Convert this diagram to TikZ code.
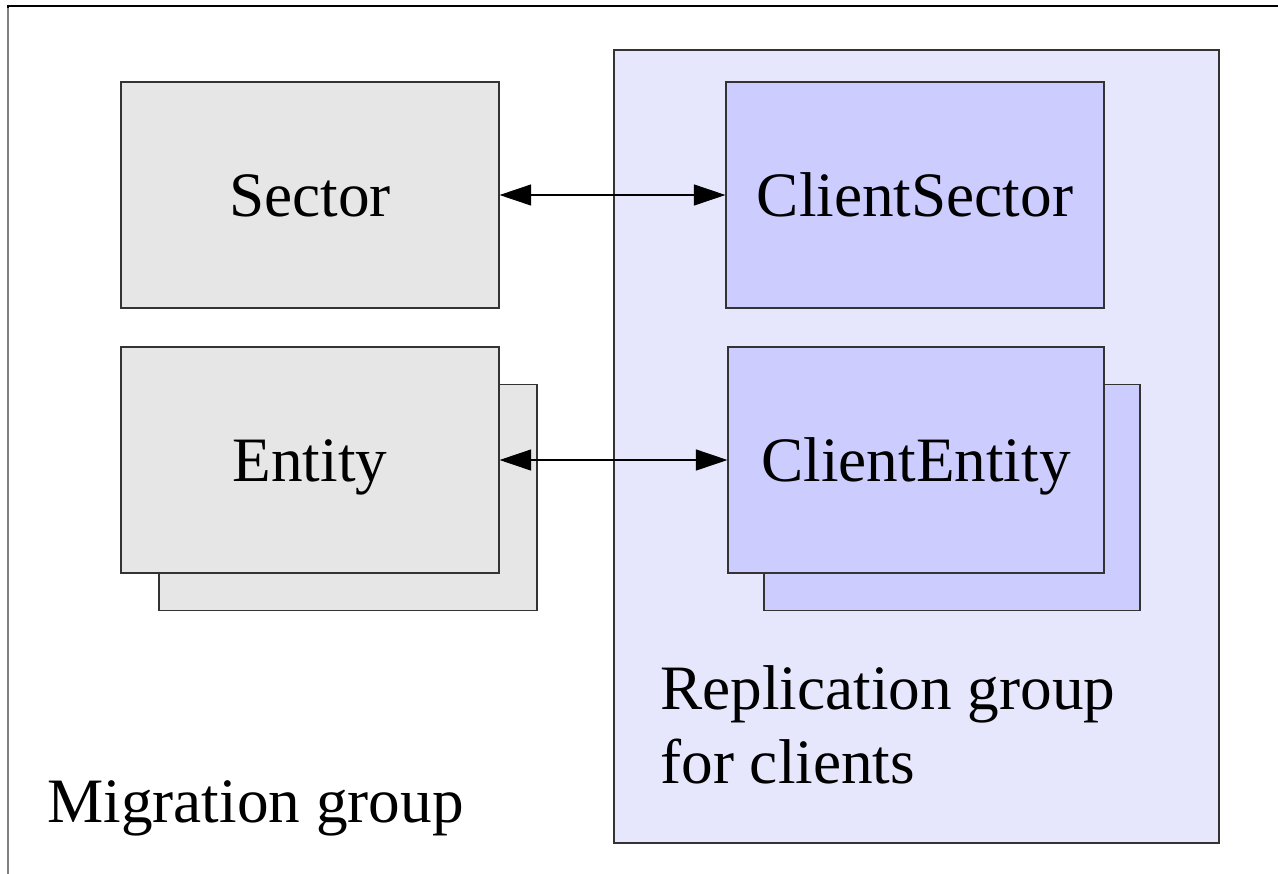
\documentclass[tikz,border=0pt]{standalone}
\usepackage{fontspec}
\setmainfont{Liberation Serif}
\usetikzlibrary{arrows.meta}

\definecolor{boxgrey}{RGB}{230,230,230}
\definecolor{replfill}{RGB}{230,230,252}
\definecolor{clientfill}{RGB}{204,204,255}

\begin{document}
\begin{tikzpicture}[x=0.02cm, y=-0.02cm,
    every node/.style={font=\fontsize{36}{42}\selectfont},
    objbox/.style={draw=black!80, line width=0.7pt, inner sep=0pt,
      text height=30pt, text depth=5pt,
      minimum width=7.56cm, minimum height=4.52cm},
    serverbox/.style={objbox, fill=boxgrey},
    clientbox/.style={objbox, fill=clientfill},
    link/.style={{Triangle[length=18pt,width=12pt]}-{Triangle[length=18pt,width=12pt]}, line width=0.6pt}]
  \useasboundingbox (0,0) rectangle (1278,873);
  \clip (0,0) rectangle (1278,873);
  % outer frame of the migration group
  \draw[line width=0.8pt] (8,880) -- (8,6) -- (1290,6);
  \draw[gray, line width=0.8pt] (8,880) -- (8,8);

  % replication group
  \node[draw=black!80, line width=0.7pt, fill=replfill, inner sep=0pt,
    minimum width=12.1cm, minimum height=15.86cm] (repl) at (916.5,446.5) {};

  % server side objects
  \node[serverbox] (sector) at (310,195) {Sector};
  \node[serverbox] (entityback) at (348,497.5) {};
  \node[serverbox] (entity) at (310,460) {Entity};

  % client side objects
  \node[clientbox] (csector) at (915,195) {ClientSector};
  \node[clientbox, minimum width=7.52cm] (centityback) at (952,497.5) {};
  \node[clientbox, minimum width=7.52cm] (centity) at (916,460) {ClientEntity};

  % links
  \draw[link] (sector.east) -- (csector.west);
  \draw[link] (entity.east) -- (centity.west);

  % group labels
  \node[anchor=base west, align=left, inner sep=0pt] (repllabel) at (660,783)
    {Replication group\\for clients};
  \node[anchor=base west, inner sep=0pt] (miglabel) at (47,822) {Migration group};
\end{tikzpicture}
\end{document}
